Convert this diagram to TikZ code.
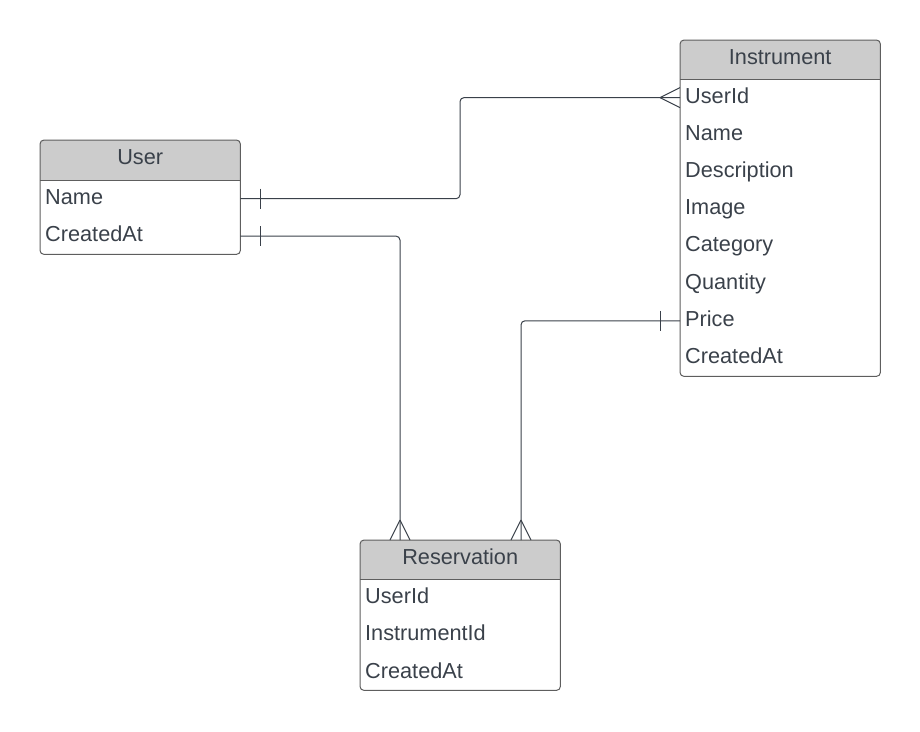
\documentclass[tikz,border=0pt]{standalone}
\usepackage{fontspec}
\setmainfont{Liberation Sans}
\definecolor{txt}{HTML}{3A414A}
\definecolor{bord}{HTML}{5E5E5E}
\definecolor{hdr}{HTML}{CCCCCC}
\begin{document}
\begin{tikzpicture}[x=1pt,y=-1pt,
  tblholder/.style={inner sep=0pt, minimum width=200pt, anchor=north west},
  tblborder/.style={draw=bord, line width=1pt, rounded corners=4pt},
  rowtxt/.style={text=txt, font=\fontsize{21.7}{25}\selectfont, text width=190pt, align=left,
    inner xsep=5pt, inner ysep=0pt, text height=15pt, text depth=4pt, minimum height=37pt, anchor=north west},
  headtxt/.style={text=txt, font=\fontsize{21.7}{25}\selectfont, inner sep=0pt, text height=15pt, text depth=4pt},
  conn/.style={draw=txt, line width=1pt, rounded corners=4pt},
  endmark/.style={draw=txt, line width=1pt},
]
\useasboundingbox (0,0) rectangle (920,731);

% ---------- User ----------
\node[tblholder, minimum height=114pt] (user) at (40,140) {};
\begin{scope}
  \clip[rounded corners=4pt] (user.north west) rectangle (user.south east);
  \fill[hdr] (user.north west) rectangle ([yshift=-40pt]user.north east);
\end{scope}
\draw[tblborder] (user.north west) rectangle (user.south east);
\draw[bord, line width=1pt] ([yshift=-40pt]user.north west) -- ([yshift=-40pt]user.north east);
\node[headtxt] (user-h) at ([yshift=-19pt]user.north) {User};
\node[rowtxt] (u-name) at ([yshift=-40pt]user.north west) {Name};
\node[rowtxt] (u-created) at (u-name.south west) {CreatedAt};

% ---------- Instrument ----------
\node[tblholder, minimum height=336pt] (inst) at (680,40) {};
\begin{scope}
  \clip[rounded corners=4pt] (inst.north west) rectangle (inst.south east);
  \fill[hdr] (inst.north west) rectangle ([yshift=-39pt]inst.north east);
\end{scope}
\draw[tblborder] (inst.north west) rectangle (inst.south east);
\draw[bord, line width=1pt] ([yshift=-39pt]inst.north west) -- ([yshift=-39pt]inst.north east);
\node[headtxt] (inst-h) at ([yshift=-18.5pt]inst.north) {Instrument};
\node[rowtxt, minimum height=36.8pt] (i-userid) at ([yshift=-39pt]inst.north west) {UserId};
\node[rowtxt, minimum height=36.8pt] (i-name) at (i-userid.south west) {Name};
\node[rowtxt, minimum height=36.8pt] (i-desc) at (i-name.south west) {Description};
\node[rowtxt, minimum height=36.8pt] (i-image) at (i-desc.south west) {Image};
\node[rowtxt, minimum height=36.8pt] (i-cat) at (i-image.south west) {Category};
\node[rowtxt, minimum height=36.8pt] (i-qty) at (i-cat.south west) {Quantity};
\node[rowtxt, minimum height=36.8pt] (i-price) at (i-qty.south west) {Price};
\node[rowtxt, minimum height=36.8pt] (i-created) at (i-price.south west) {CreatedAt};

% ---------- Reservation ----------
\node[tblholder, minimum height=150pt] (res) at (360,540) {};
\begin{scope}
  \clip[rounded corners=4pt] (res.north west) rectangle (res.south east);
  \fill[hdr] (res.north west) rectangle ([yshift=-39pt]res.north east);
\end{scope}
\draw[tblborder] (res.north west) rectangle (res.south east);
\draw[bord, line width=1pt] ([yshift=-39pt]res.north west) -- ([yshift=-39pt]res.north east);
\node[headtxt] (res-h) at ([yshift=-18.5pt]res.north) {Reservation};
\node[rowtxt] (r-userid) at ([yshift=-39pt]res.north west) {UserId};
\node[rowtxt] (r-instid) at (r-userid.south west) {InstrumentId};
\node[rowtxt] (r-created) at (r-instid.south west) {CreatedAt};

% ---------- Connectors ----------
\coordinate (x1) at (460,0);
\coordinate (x2) at (400,0);
\coordinate (x3) at (521,0);

% User.Name -> Instrument.UserId
\draw[conn] (u-name.east) -- (u-name.east -| x1) -- (i-userid.west -| x1) -- (i-userid.west);
\draw[endmark] ([xshift=20pt]u-name.east) ++(0,-10) -- ++(0,20);
\draw[endmark] ([xshift=-20pt]i-userid.west) -- ++(20,-10);
\draw[endmark] ([xshift=-20pt]i-userid.west) -- ++(20,10);

% User.CreatedAt -> Reservation
\draw[conn] (u-created.east) -- (u-created.east -| x2) -- (res.north -| x2);
\draw[endmark] ([xshift=20pt]u-created.east) ++(0,-10) -- ++(0,20);
\draw[endmark] ([yshift=20pt]res.north -| x2) -- ++(-10,20);
\draw[endmark] ([yshift=20pt]res.north -| x2) -- ++(10,20);

% Instrument.Price -> Reservation
\draw[conn] (i-price.west) -- (i-price.west -| x3) -- (res.north -| x3);
\draw[endmark] ([xshift=-20pt]i-price.west) ++(0,-10) -- ++(0,20);
\draw[endmark] ([yshift=20pt]res.north -| x3) -- ++(-10,20);
\draw[endmark] ([yshift=20pt]res.north -| x3) -- ++(10,20);
\end{tikzpicture}
\end{document}
